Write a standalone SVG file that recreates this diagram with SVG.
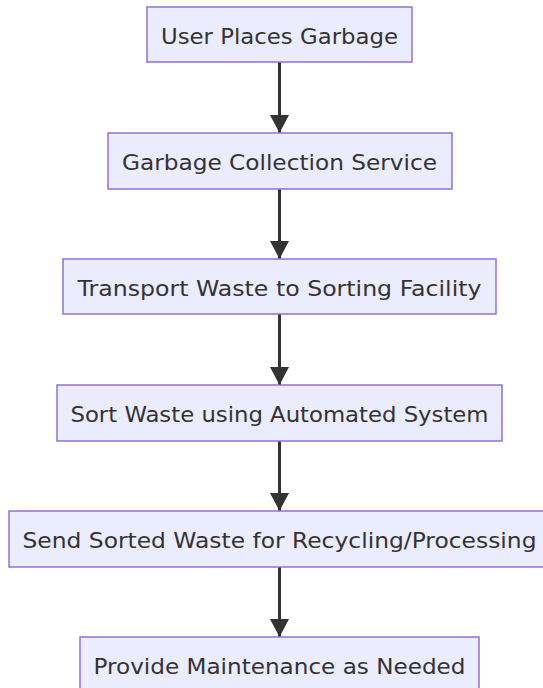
<svg xmlns="http://www.w3.org/2000/svg" width="543" height="688" viewBox="0 0 543 688">
<style>
.n rect{fill:#ECECFF;stroke:#9370DB;stroke-width:1.5}
.n text{font-family:"DejaVu Sans","Liberation Sans",Arial,sans-serif;font-size:21px;fill:#333;text-anchor:middle;dominant-baseline:central}
.e{stroke:#333;stroke-width:3;fill:none;marker-end:url(#ah)}
</style>
<defs>
<marker id="ah" viewBox="0 0 18 19" refX="18" refY="9.5" markerWidth="18" markerHeight="19" orient="auto" markerUnits="userSpaceOnUse">
<path d="M0,0 L18,9.5 L0,19 z" fill="#333"/>
</marker>
</defs>
<rect width="543" height="688" fill="#fff"/>
<g id="edges">
<path class="e" d="M279.5,62 V133"/>
<path class="e" d="M279.5,189 V259"/>
<path class="e" d="M279.5,314 V385"/>
<path class="e" d="M279.5,441 V511"/>
<path class="e" d="M279.5,567 V637"/>
</g>
<g id="n1" class="n"><rect x="147" y="7" width="265" height="55"/><text x="279.5" y="36.5" textLength="237" lengthAdjust="spacingAndGlyphs">User Places Garbage</text></g>
<g id="n2" class="n"><rect x="108" y="133" width="344" height="56"/><text x="279.5" y="162.5" textLength="315" lengthAdjust="spacingAndGlyphs">Garbage Collection Service</text></g>
<g id="n3" class="n"><rect x="63" y="259" width="433" height="55"/><text x="279.5" y="288.5" textLength="404" lengthAdjust="spacingAndGlyphs">Transport Waste to Sorting Facility</text></g>
<g id="n4" class="n"><rect x="57" y="385" width="445" height="56"/><text x="279.5" y="414.5" textLength="418" lengthAdjust="spacingAndGlyphs">Sort Waste using Automated System</text></g>
<g id="n5" class="n"><rect x="9" y="511" width="542" height="56"/><text x="279.5" y="540.5" textLength="514" lengthAdjust="spacingAndGlyphs">Send Sorted Waste for Recycling/Processing</text></g>
<g id="n6" class="n"><rect x="80" y="637" width="399" height="56"/><text x="279.5" y="666.5" textLength="372" lengthAdjust="spacingAndGlyphs">Provide Maintenance as Needed</text></g>
</svg>
